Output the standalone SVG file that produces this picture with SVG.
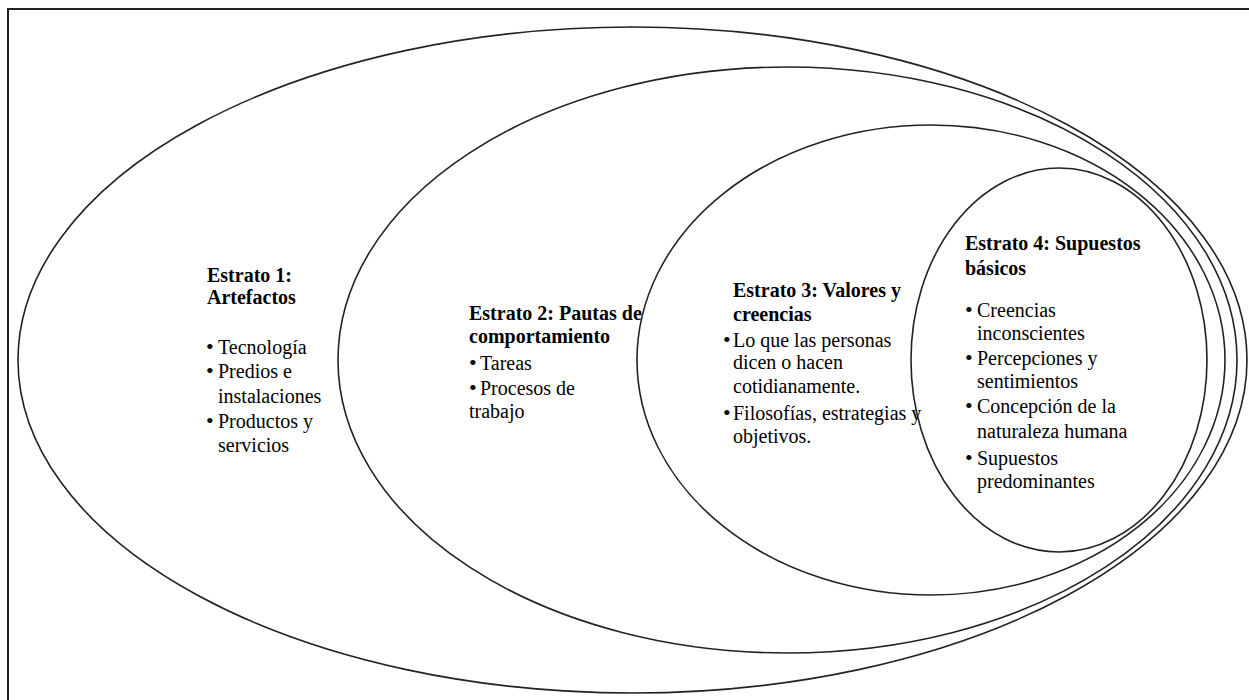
<svg xmlns="http://www.w3.org/2000/svg" width="1249" height="700" viewBox="0 0 1249 700">
<style>
.frame{fill:none;stroke:#222;stroke-width:2}
.ring{fill:none;stroke:#222;stroke-width:1.6}
text{font-family:"Liberation Serif","Times New Roman",serif;font-size:20px;fill:#000}
.h{font-weight:bold}
.b{font-size:22px}
</style>
<rect x="0" y="0" width="1249" height="700" fill="#fff"/>
<rect class="frame" x="8" y="9" width="1260" height="720"/>
<g id="connectors"></g>
<g id="estrato1">
<ellipse class="ring" cx="632.5" cy="360" rx="614.5" ry="333"/>
<text class="h" x="207" y="282">Estrato 1:</text>
<text class="h" x="207" y="304">Artefactos</text>
<text class="b" x="206" y="354">•</text><text x="218" y="354">Tecnología</text>
<text class="b" x="206" y="378">•</text><text x="218" y="378">Predios e</text>
<text x="218" y="403">instalaciones</text>
<text class="b" x="206" y="428">•</text><text x="218" y="428">Productos y</text>
<text x="218" y="452">servicios</text>
</g>
<g id="estrato2">
<ellipse class="ring" cx="787.5" cy="360" rx="449.5" ry="293"/>
<text class="h" x="469" y="320">Estrato 2: Pautas de</text>
<text class="h" x="469" y="343">comportamiento</text>
<text class="b" x="469" y="370">•</text><text x="480" y="370">Tareas</text>
<text class="b" x="469" y="395">•</text><text x="480" y="395">Procesos de</text>
<text x="469" y="418">trabajo</text>
</g>
<g id="estrato3">
<ellipse class="ring" cx="931" cy="360" rx="294" ry="235"/>
<text class="h" x="733" y="297">Estrato 3: Valores y</text>
<text class="h" x="733" y="321">creencias</text>
<text class="b" x="723" y="347">•</text><text x="733" y="347">Lo que las personas</text>
<text x="733" y="369">dicen o hacen</text>
<text x="733" y="393">cotidianamente.</text>
<text class="b" x="723" y="420">•</text><text x="733" y="420">Filosofías, estrategias y</text>
<text x="733" y="443">objetivos.</text>
</g>
<g id="estrato4">
<ellipse class="ring" cx="1059" cy="360" rx="148" ry="192"/>
<text class="h" x="965" y="250">Estrato 4: Supuestos</text>
<text class="h" x="965" y="275">básicos</text>
<text class="b" x="965" y="317">•</text><text x="977" y="317">Creencias</text>
<text x="977" y="340">inconscientes</text>
<text class="b" x="965" y="365">•</text><text x="977" y="365">Percepciones y</text>
<text x="977" y="388">sentimientos</text>
<text class="b" x="965" y="413">•</text><text x="977" y="413">Concepción de la</text>
<text x="977" y="438">naturaleza humana</text>
<text class="b" x="965" y="465">•</text><text x="977" y="465">Supuestos</text>
<text x="977" y="488">predominantes</text>
</g>
</svg>
